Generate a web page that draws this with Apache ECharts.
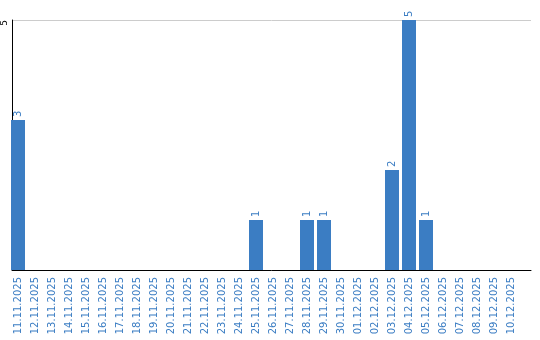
<!DOCTYPE html>
<html>
<head>
<meta charset="utf-8">
<script src="https://cdn.jsdelivr.net/npm/echarts@6/dist/echarts.min.js"></script>
<style>html,body{margin:0;padding:0;background:#fff;}#c{width:540px;height:340px;}</style>
</head>
<body>
<div id="c"></div>
<script>
var categories = ['11.11.2025','12.11.2025','13.11.2025','14.11.2025','15.11.2025','16.11.2025','17.11.2025','18.11.2025','19.11.2025','20.11.2025','21.11.2025','22.11.2025','23.11.2025','24.11.2025','25.11.2025','26.11.2025','27.11.2025','28.11.2025','29.11.2025','30.11.2025','01.12.2025','02.12.2025','03.12.2025','04.12.2025','05.12.2025','06.12.2025','07.12.2025','08.12.2025','09.12.2025','10.12.2025'];
var values = [3,0,0,0,0,0,0,0,0,0,0,0,0,0,1,0,0,1,1,0,0,0,2,5,1,0,0,0,0,0];
var yMin = 0, yMax = 5, yInterval = 5;

var blue = '#3b7dc3';
var font = 'DejaVu Sans';
var chart = echarts.init(document.getElementById('c'), null, {renderer: 'canvas'});
chart.setOption({
  animation: false,
  backgroundColor: '#ffffff',
  grid: [
    {left: 10, right: 9, top: 20, bottom: 70, containLabel: false},
    {left: 9.5, right: 20.5, top: 20, bottom: 70, containLabel: false}
  ],
  xAxis: [
    {gridIndex: 0, type: 'value', min: 0, max: 1,
     axisLine: {show: true, onZero: false, lineStyle: {color: '#000', width: 1}},
     axisTick: {show: false}, axisLabel: {show: false}, splitLine: {show: false}},
    {gridIndex: 1, type: 'category', data: categories, boundaryGap: true,
     axisLine: {show: false}, axisTick: {show: false}, splitLine: {show: false},
     axisLabel: {interval: 0, rotate: 90, margin: 7, color: blue, fontFamily: font, fontSize: 10}}
  ],
  yAxis: [
    {gridIndex: 0, type: 'value', min: yMin, max: yMax, interval: yInterval,
     axisLine: {show: true, lineStyle: {color: '#000', width: 1}},
     axisTick: {show: false},
     axisLabel: {show: true, showMinLabel: false, rotate: 90, margin: 3, align: 'right', verticalAlign: 'bottom',
                 color: '#000', fontFamily: font, fontSize: 9},
     splitLine: {show: true, lineStyle: {color: '#cccccc', width: 1}}},
    {gridIndex: 1, type: 'value', min: yMin, max: yMax, interval: yInterval, show: false}
  ],
  series: [{
    type: 'bar', xAxisIndex: 1, yAxisIndex: 1, data: values, barWidth: 14,
    itemStyle: {color: blue},
    label: {show: true, position: 'top', rotate: 90, align: 'left', verticalAlign: 'middle', distance: 3,
            color: blue, fontFamily: font, fontSize: 10,
            formatter: function (p) { return p.value ? String(p.value) : ''; }}
  }]
});
</script>
</body>
</html>
